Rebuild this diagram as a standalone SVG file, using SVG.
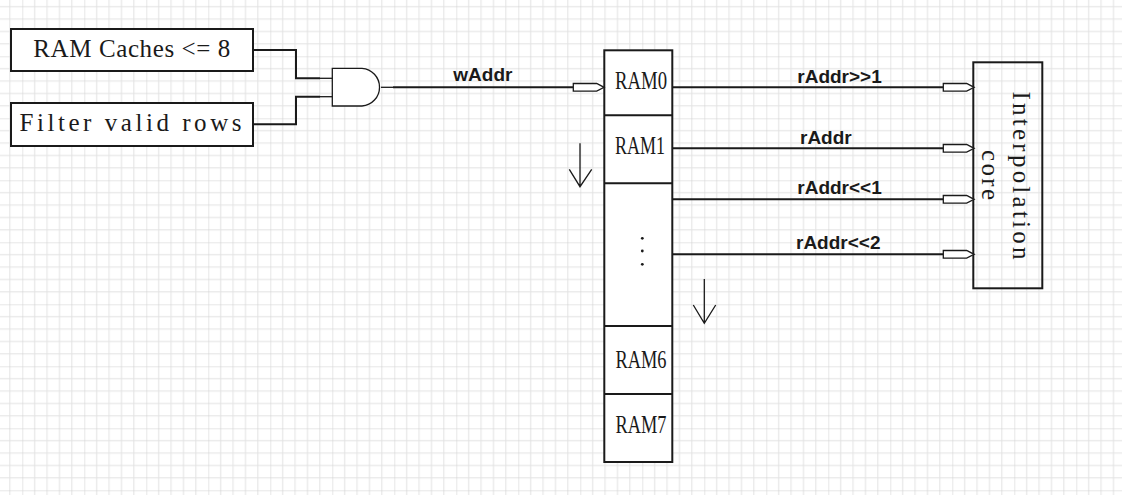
<svg xmlns="http://www.w3.org/2000/svg" xmlns:xlink="http://www.w3.org/1999/xlink" width="1122" height="495" viewBox="0 0 1122 495">
  <style>
    .box { fill: #ffffff; stroke: #1a1a1a; stroke-width: 2; }
    .open { fill: none; stroke: #1a1a1a; stroke-width: 2; }
    .wire { fill: none; stroke: #1a1a1a; stroke-width: 2; }
    .thin { fill: none; stroke: #1a1a1a; stroke-width: 1.3; }
    .port { fill: #ffffff; stroke: #1a1a1a; stroke-width: 1.3; }
    .mono { font-family: "Liberation Serif", "DejaVu Serif", serif; font-size: 25px; fill: #1a1a1a; }
    .serif { font-family: "Liberation Serif", "DejaVu Serif", serif; font-size: 26px; fill: #1a1a1a; }
    .lbl { font-family: "Liberation Sans", Arial, sans-serif; font-weight: bold; font-size: 19px; fill: #1a1a1a; }
  </style>
  <defs>
    <pattern id="grid" x="22.3" y="56.3" width="62" height="62" patternUnits="userSpaceOnUse">
      <g stroke="#e2e2e2" stroke-width="1">
        <path d="M12.4,0 V62 M24.8,0 V62 M37.2,0 V62 M49.6,0 V62"/>
        <path d="M0,12.4 H62 M0,24.8 H62 M0,37.2 H62 M0,49.6 H62"/>
      </g>
      <g stroke="#d0d0d0" stroke-width="1">
        <path d="M0,0 V62 M0,0 H62"/>
      </g>
    </pattern>
    <path id="port" class="port" d="M0,-3.8 H23.4 L30.8,0 L23.4,3.8 H0 Z"/>
  </defs>

  <rect x="0" y="0" width="1122" height="495" fill="#ffffff"/>
  <rect x="0" y="0" width="1122" height="495" fill="url(#grid)"/>

  <g id="box-ram-caches">
    <rect class="box" x="11" y="29" width="242" height="42"/>
    <text class="mono" x="33.3" y="57.3" textLength="197" lengthAdjust="spacing">RAM Caches &lt;= 8</text>
  </g>

  <g id="box-filter">
    <rect class="box" x="11" y="103" width="242" height="43"/>
    <text class="mono" x="19.5" y="131" textLength="222" lengthAdjust="spacing">Filter valid rows</text>
  </g>

  <g id="and-gate">
    <path class="port" d="M332.3,68.3 H362 A18.9,18.9 0 0 1 362,106 H332.3 Z"/>
  </g>

  <g id="ram-bank">
    <rect class="box" x="604.3" y="50.3" width="68" height="411.7"/>
    <path class="wire" d="M604.3,115.3 H672.3 M604.3,183.3 H672.3 M604.3,326 H672.3 M604.3,394 H672.3"/>
    <text class="serif" x="641" y="89" text-anchor="middle" textLength="52" lengthAdjust="spacingAndGlyphs">RAM0</text>
    <text class="serif" x="640" y="154" text-anchor="middle" textLength="50" lengthAdjust="spacingAndGlyphs">RAM1</text>
    <g fill="#1a1a1a">
      <circle cx="642.3" cy="238.3" r="1.4"/>
      <circle cx="642.3" cy="251" r="1.4"/>
      <circle cx="642.3" cy="264.3" r="1.4"/>
    </g>
    <text class="serif" x="641" y="367.7" text-anchor="middle" textLength="51" lengthAdjust="spacingAndGlyphs">RAM6</text>
    <text class="serif" x="641" y="432.7" text-anchor="middle" textLength="51" lengthAdjust="spacingAndGlyphs">RAM7</text>
  </g>

  <g id="interpolation-core">
    <rect class="open" x="973.3" y="62.3" width="69" height="226"/>
    <text class="mono" transform="translate(1012.5,91.5) rotate(90)" textLength="168" lengthAdjust="spacing">Interpolation</text>
    <text class="mono" transform="translate(981.5,150) rotate(90)" textLength="50" lengthAdjust="spacing">core</text>
  </g>

  <g id="connectors">
    <path class="wire" d="M253,50 H296 V78.3 H320"/>
    <path class="thin" d="M320,78.3 H332.3"/>
    <path class="wire" d="M253,124.3 H296 V96.7 H320"/>
    <path class="thin" d="M320,96.7 H332.3"/>
    <path class="thin" d="M381,87.3 H393"/>
    <path class="wire" d="M393,87.3 H573.3"/>
    <use xlink:href="#port" x="573.3" y="87.3"/>
    <text class="lbl" x="453.3" y="81">wAddr</text>

    <path class="wire" d="M672.3,87.3 H943.3"/>
    <use xlink:href="#port" x="943.3" y="87.3"/>
    <text class="lbl" x="797.3" y="82.7">rAddr&gt;&gt;1</text>

    <path class="wire" d="M672.3,148.3 H943.3"/>
    <use xlink:href="#port" x="943.3" y="148.3"/>
    <text class="lbl" x="800" y="144">rAddr</text>

    <path class="wire" d="M672.3,199.3 H943.3"/>
    <use xlink:href="#port" x="943.3" y="199.3"/>
    <text class="lbl" x="797.3" y="194">rAddr&lt;&lt;1</text>

    <path class="wire" d="M672.3,254.3 H943.3"/>
    <use xlink:href="#port" x="943.3" y="254.3"/>
    <text class="lbl" x="796" y="249.3">rAddr&lt;&lt;2</text>

    <path class="thin" d="M580,143.3 V186.7 M569.3,169.3 L580,186.7 L591.7,169.3"/>
    <path class="thin" d="M704.3,279 V323.3 M693.3,305 L704.3,323.3 L715.7,305"/>
  </g>
</svg>
